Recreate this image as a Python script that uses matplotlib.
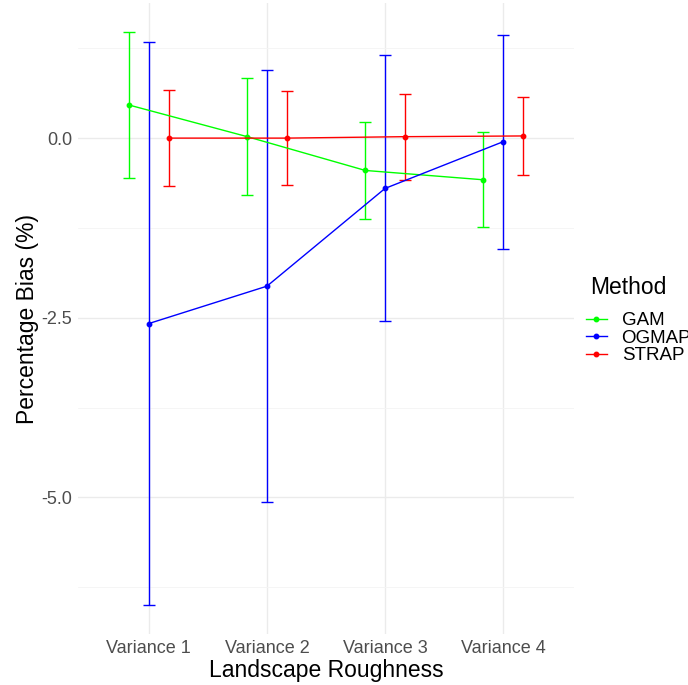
import numpy as np
import matplotlib.pyplot as plt
from matplotlib.lines import Line2D

plt.rcParams['font.family'] = ['Liberation Sans', 'DejaVu Sans']

# 데이터 준비
variances = ["Variance 1", "Variance 2", "Variance 3", "Variance 4"]
methods = ["GAM", "OGMAP", "STRAP"]
colors = {"GAM": "#00FF00", "OGMAP": "#0000FF", "STRAP": "#FF0000"}

gam_mean = [0.46, 0.02, -0.45, -0.58]
gam_upper = [1.48, 0.83, 0.23, 0.08]
gam_lower = [-0.55, -0.79, -1.12, -1.23]

ogmap_mean = [-2.58, -2.06, -0.70, -0.05]
ogmap_upper = [1.34, 0.95, 1.16, 1.44]
ogmap_lower = [-6.50, -5.07, -2.54, -1.54]

strap_mean = [0.00, 0.00, 0.02, 0.03]
strap_upper = [0.67, 0.66, 0.61, 0.57]
strap_lower = [-0.66, -0.65, -0.58, -0.52]

series = {
    "GAM": (gam_mean, gam_lower, gam_upper),
    "OGMAP": (ogmap_mean, ogmap_lower, ogmap_upper),
    "STRAP": (strap_mean, strap_lower, strap_upper),
}
offsets = {"GAM": -0.167, "OGMAP": 0.0, "STRAP": 0.167}

fig = plt.figure(figsize=(6.88, 6.85), dpi=100)
ax = fig.add_axes([78 / 688, 1 - 634 / 685, (574 - 78) / 688, (634 - 3) / 685])

x = np.arange(len(variances))
for m in methods:
    mean, lo, hi = (np.array(v) for v in series[m])
    xs = x + offsets[m]
    ax.errorbar(xs, mean, yerr=[mean - lo, hi - mean], color=colors[m],
                lw=1, elinewidth=1, capsize=4.5, capthick=1,
                marker="o", ms=3.2, zorder=3)

# 눈금과 격자
ax.set_xlim(-0.6, len(variances) - 0.4)
ax.set_ylim(-6.9, 1.88)
ax.set_xticks(x)
ax.set_xticklabels(variances)
ax.set_yticks([0.0, -2.5, -5.0])
ax.set_yticklabels(["0.0", "-2.5", "-5.0"])
ax.set_yticks([1.25, -1.25, -3.75, -6.25], minor=True)
ax.grid(True, which="major", color="#EBEBEB", lw=1.0)
ax.grid(True, which="minor", axis="y", color="#F4F4F4", lw=0.6)
ax.set_axisbelow(True)
for s in ax.spines.values():
    s.set_visible(False)
ax.tick_params(which="both", length=0, labelsize=13, labelcolor="#4D4D4D", pad=4)

ax.set_xlabel("Landscape Roughness", fontsize=16.5, labelpad=2)
ax.set_ylabel("Percentage Bias (%)", fontsize=16.5, labelpad=2)

# 범례
fig.text(590 / 688, 1 - 287 / 685, "Method", fontsize=16.5, va="center", ha="left")
handles = [Line2D([], [], color=colors[m], lw=1, marker="o", ms=3.2) for m in methods]
fig.legend(handles, methods, loc="upper left", bbox_to_anchor=(586 / 688, 1 - 312 / 685),
           frameon=False, fontsize=13.5, handlelength=1.1, handletextpad=0.8,
           labelspacing=0.02, borderaxespad=0, borderpad=0)

plt.savefig("out.png", dpi=100)
